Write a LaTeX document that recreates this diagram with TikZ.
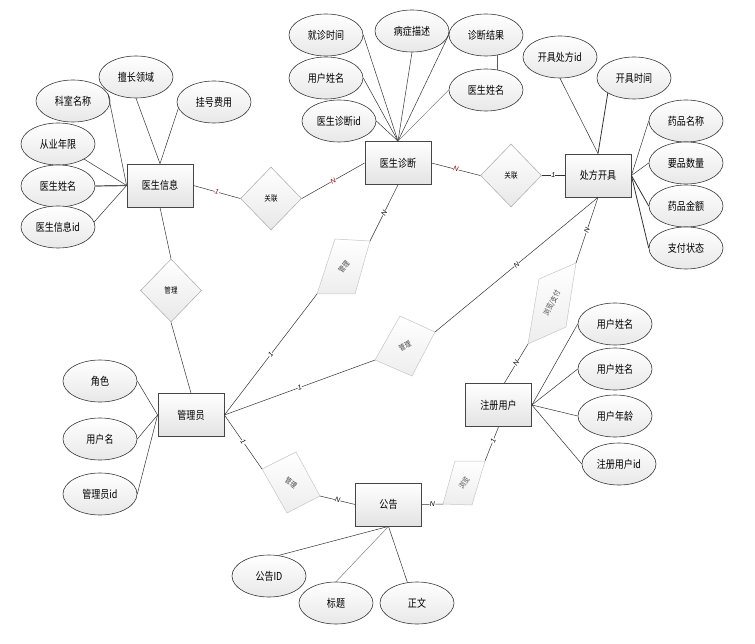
\documentclass[tikz,border=0pt]{standalone}
\usepackage{fontspec}
\newfontfamily\cjk[FakeStretch=0.82]{Noto Sans CJK SC}
\newfontfamily\lab{Liberation Sans}
\usetikzlibrary{shapes.geometric}
\tikzset{
  ent/.style={rectangle, draw=gray!55!black, line width=0.8pt, top color=white, bottom color=gray!22, minimum width=66pt, minimum height=43pt, inner sep=0pt, font=\cjk\fontsize{11}{11}\selectfont},
  attr/.style={ellipse, draw=gray!45!black, line width=0.6pt, top color=white, bottom color=gray!18, minimum width=74pt, minimum height=42pt, inner sep=0pt, font=\cjk\fontsize{11}{11}\selectfont},
  rel/.style={diamond, draw=gray!60, line width=0.6pt, top color=white, bottom color=gray!18, minimum width=61pt, minimum height=63pt, inner sep=0pt, font=\cjk\fontsize{8}{8}\selectfont},
  skew/.style={draw=gray!45, line width=0.5pt, top color=white, bottom color=gray!14},
  skewtxt/.style={font=\cjk\fontsize{7.5}{7.5}\selectfont, text=gray!55!black, inner sep=0pt},
  con/.style={draw=black!80, line width=0.5pt},
  lbl/.style={font=\lab\itshape\fontsize{7}{7}\selectfont, fill=white, inner sep=0.3pt, sloped, midway},
  lblr/.style={lbl, text=red!55!black},
}
\begin{document}
\begin{tikzpicture}[x=1pt,y=-1pt]
\useasboundingbox (0,0) rectangle (755,644);

% entities
\node[ent] (doc) at (160,185.5) {医生信息};
\node[ent] (diag) at (398,163) {医生诊断};
\node[ent] (rx) at (598,175.5) {处方开具};
\node[ent] (adm) at (191,415) {管理员};
\node[ent] (zc) at (498.5,405) {注册用户};
\node[ent] (gg) at (388.5,504.5) {公告};

% attributes of 医生信息
\node[attr] (ks) at (73,101) {科室名称};
\node[attr] (sc) at (136,77) {擅长领域};
\node[attr] (gh) at (214,102) {挂号费用};
\node[attr] (cy) at (58,144) {从业年限};
\node[attr] (ys) at (58,186) {医生姓名};
\node[attr] (did) at (58,227) {医生信息id};

% attributes of 医生诊断
\node[attr] (jz) at (326,35) {就诊时间};
\node[attr] (bz) at (412,31) {病症描述};
\node[attr] (zj) at (486,35) {诊断结果};
\node[attr] (yh) at (326,78) {用户姓名};
\node[attr] (ysr) at (486,90) {医生姓名};
\node[attr] (zdid) at (339,121) {医生诊断id};

% attributes of 处方开具
\node[attr] (kjid) at (560,57) {开具处方id};
\node[attr] (kjsj) at (634,78) {开具时间};
\node[attr] (ypm) at (686,121) {药品名称};
\node[attr] (ypsl) at (686,163) {要品数量};
\node[attr] (ypje) at (686,206) {药品金额};
\node[attr] (zfzt) at (686,248) {支付状态};

% attributes of 管理员
\node[attr] (js) at (100,381) {角色};
\node[attr] (yhm) at (100,439) {用户名};
\node[attr] (glid) at (100,494) {管理员id};

% attributes of 注册用户
\node[attr] (u1) at (615,324) {用户姓名};
\node[attr] (u2) at (615,369) {用户姓名};
\node[attr] (u3) at (615,416) {用户年龄};
\node[attr] (u4) at (619,464) {注册用户id};

% attributes of 公告
\node[attr] (ggid) at (269,576) {公告ID};
\node[attr] (bt) at (336,603) {标题};
\node[attr] (zw) at (417,603) {正文};

% regular relationships
\node[rel] (gl1) at (271,198.5) {关联};
\node[rel] (gl2) at (511,175.5) {关联};
\node[rel] (gm) at (171,290.5) {管理};

% skewed relationships
\coordinate (A1) at (335,239); \coordinate (A2) at (370,241);
\coordinate (A3) at (355,294); \coordinate (A4) at (317,294);
\shade[skew] (A1) -- (A2) -- (A3) -- (A4) -- cycle;
\node[skewtxt, rotate=50] (ta) at (344,267) {管理};

\coordinate (B1) at (375,360); \coordinate (B2) at (400,316);
\coordinate (B3) at (435,332); \coordinate (B4) at (412,376);
\shade[skew] (B1) -- (B2) -- (B3) -- (B4) -- cycle;
\node[skewtxt, rotate=28] (tb) at (405,346) {管理};

\coordinate (C1) at (576,263); \coordinate (C2) at (539,279);
\coordinate (C3) at (528,344); \coordinate (C4) at (566,327);
\shade[skew] (C1) -- (C2) -- (C3) -- (C4) -- cycle;
\node[skewtxt, rotate=62] (tc) at (552,303) {浏览/支付};

\coordinate (D1) at (455,461); \coordinate (D2) at (485,461);
\coordinate (D3) at (472,505); \coordinate (D4) at (443,504);
\shade[skew] (D1) -- (D2) -- (D3) -- (D4) -- cycle;
\node[skewtxt, rotate=55] (td) at (464,483) {浏览};

\coordinate (E1) at (262,469); \coordinate (E2) at (296,452);
\coordinate (E3) at (320,496); \coordinate (E4) at (287,513);
\shade[skew] (E1) -- (E2) -- (E3) -- (E4) -- cycle;
\node[skewtxt, rotate=-35] (te) at (291,483) {管理};

% attribute lines
\draw[con] (ks.12) -- (doc.west);
\draw[con] (cy.-30) -- (doc.west);
\draw[con, line width=1.2pt, gray!70!black] (ys.east) -- (doc.west);
\draw[con] (did.8) -- (doc.west);
\draw[con] (sc.south) -- (doc.north);
\draw[con] (gh.190) -- (doc.north);

\draw[con] (jz.east) -- (diag.north);
\draw[con] (yh.east) -- (diag.north);
\draw[con] (zdid.east) -- (diag.north);
\draw[con] (bz.south) -- (diag.north);
\draw[con] (zj.west) -- (diag.north);
\draw[con, gray] (ysr.west) -- (diag.north);
\draw[con, line width=1.3pt, gray!70!black] (zj.-60) -- (ysr.60);

\draw[con] (kjid.south) -- (rx.north);
\draw[con, line width=0.8pt] (kjsj.210) -- (rx.north);
\draw[con] (rx.east) -- (ypm.west);
\draw[con] (rx.east) -- (ypsl.west);
\draw[con, line width=0.8pt] (rx.east) -- (ypje.west);
\draw[con, line width=0.8pt] (rx.east) -- (zfzt.west);

\draw[con] (js.east) -- (adm.west);
\draw[con] (yhm.east) -- (adm.west);
\draw[con] (glid.east) -- (adm.west);

\draw[con] (zc.east) -- (u1.west);
\draw[con] (zc.east) -- (u2.west);
\draw[con] (zc.east) -- (u3.west);
\draw[con] (zc.east) -- (u4.west);

\draw[con] (gg.south) -- (ggid.65);
\draw[con, gray] (gg.south) -- (bt.north);
\draw[con] (gg.south) -- (zw.115);

% relationship lines
\draw[con] (doc.east) -- (gl1.west) node[lblr] {1};
\draw[con] (gl1.east) -- (diag.west) node[lblr] {N};
\draw[con] (diag.east) -- (gl2.west) node[lblr] {N};
\draw[con] (gl2.east) -- (rx.west) node[lbl] {1};
\draw[con] (doc.south) -- (gm.north);
\draw[con] (gm.south) -- (adm.north);

\draw[con] (adm.east) -- (A4) node[lbl] {1};
\draw[con] (A2) -- (diag.south) node[lbl] {N};
\draw[con] (adm.east) -- (B1) node[lbl] {1};
\draw[con] (B3) -- (rx.south) node[lbl] {N};
\draw[con] (zc.75) -- (C3) node[lbl] {N};
\draw[con] (C1) -- (rx.south) node[lbl] {N};
\draw[con] (zc.south) -- (D2) node[lbl, pos=0.4] {1};
\draw[con] (D4) -- (gg.east) node[lbl] {N};
\draw[con] (adm.east) -- (E1) node[lbl] {1};
\draw[con] (E3) -- (gg.west) node[lbl] {N};
\end{tikzpicture}
\end{document}
